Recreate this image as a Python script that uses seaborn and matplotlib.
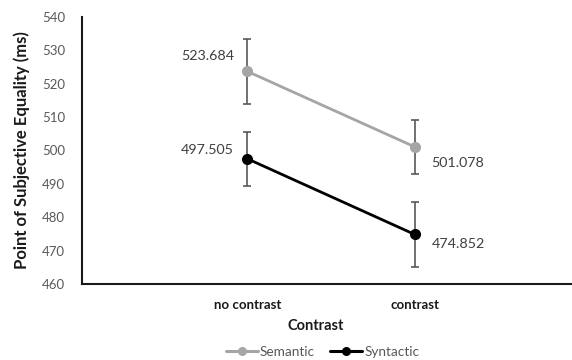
import matplotlib
matplotlib.use("Agg")
import matplotlib.pyplot as plt
import seaborn as sns
import pandas as pd
from matplotlib.lines import Line2D

conditions = ["no contrast", "contrast"]
semantic = [523.684, 501.078]
syntactic = [497.505, 474.852]
semantic_err = [9.7, 8.0]
syntactic_err = [8.1, 9.6]
series_names = ["Semantic", "Syntactic"]
yticks = [460, 470, 480, 490, 500, 510, 520, 530, 540]

colors = {"Semantic": "#a5a5a5", "Syntactic": "#000000"}

df = pd.DataFrame({
    "Contrast": conditions * 2,
    "pos": [0, 1] * 2,
    "PSE": semantic + syntactic,
    "err": semantic_err + syntactic_err,
    "Condition": ["Semantic"] * 2 + ["Syntactic"] * 2,
})

sns.set_theme(style="white")
plt.rcParams["font.family"] = ["Lato", "DejaVu Sans"]

fig = plt.figure(figsize=(5.72, 3.6), dpi=100)
ax = fig.add_axes([0.143, 0.211, 0.857, 0.742])

# error bars first so points sit on top
for name in series_names:
    sub = df[df["Condition"] == name]
    ax.errorbar(sub["pos"], sub["PSE"], yerr=sub["err"], fmt="none",
                ecolor="#595959", elinewidth=1.2, capsize=3, capthick=1.2, zorder=2)

sns.lineplot(data=df, x="pos", y="PSE", hue="Condition", palette=colors,
             marker="o", markersize=8, markeredgewidth=0, linewidth=2,
             legend=False, ax=ax, zorder=3)

# value labels
label_color = "#404040"
lab_fs = 10.3
ax.text(0 - 0.08, semantic[0] + 4.6, f"{semantic[0]:.3f}", ha="right", va="center",
        fontsize=lab_fs, color=label_color)
ax.text(0 - 0.08, syntactic[0] + 2.6, f"{syntactic[0]:.3f}", ha="right", va="center",
        fontsize=lab_fs, color=label_color)
ax.text(1 + 0.1, semantic[1] - 4.8, f"{semantic[1]:.3f}", ha="left", va="center",
        fontsize=lab_fs, color=label_color)
ax.text(1 + 0.1, syntactic[1] - 2.9, f"{syntactic[1]:.3f}", ha="left", va="center",
        fontsize=lab_fs, color=label_color)

ax.set_ylim(460, 540)
ax.set_yticks(yticks)
ax.set_xlim(-0.99, 1.94)
ax.set_xticks([0, 1])
ax.set_xticklabels(conditions, fontweight="bold", fontsize=9.5, color="#1a1a1a")
ax.tick_params(axis="y", labelsize=9.5, labelcolor="#595959", length=0, pad=12)
ax.tick_params(axis="x", length=0, pad=11)

ax.set_ylabel("Point of Subjective Equality (ms)", fontweight="bold", fontsize=12,
              color="#1a1a1a")
ax.yaxis.set_label_coords(-0.105, 0.5)
ax.set_xlabel("Contrast", fontweight="bold", fontsize=10.5, color="#1a1a1a")
ax.xaxis.set_label_coords(0.477, -0.13)

for side in ["top", "right"]:
    ax.spines[side].set_visible(False)
for side in ["left", "bottom"]:
    ax.spines[side].set_color("#1a1a1a")
    ax.spines[side].set_linewidth(1.5)

handles = [Line2D([0], [0], color=colors[n], marker="o", markersize=6.5, linewidth=2.2,
                  markeredgewidth=0) for n in series_names]
fig.legend(handles, series_names, loc="center", bbox_to_anchor=(0.564, 0.022), ncol=2,
           frameon=False, fontsize=9.8, handlelength=2.35, handletextpad=0.15,
           columnspacing=1.1, labelcolor="#595959")

fig.savefig("out.png", dpi=100)
